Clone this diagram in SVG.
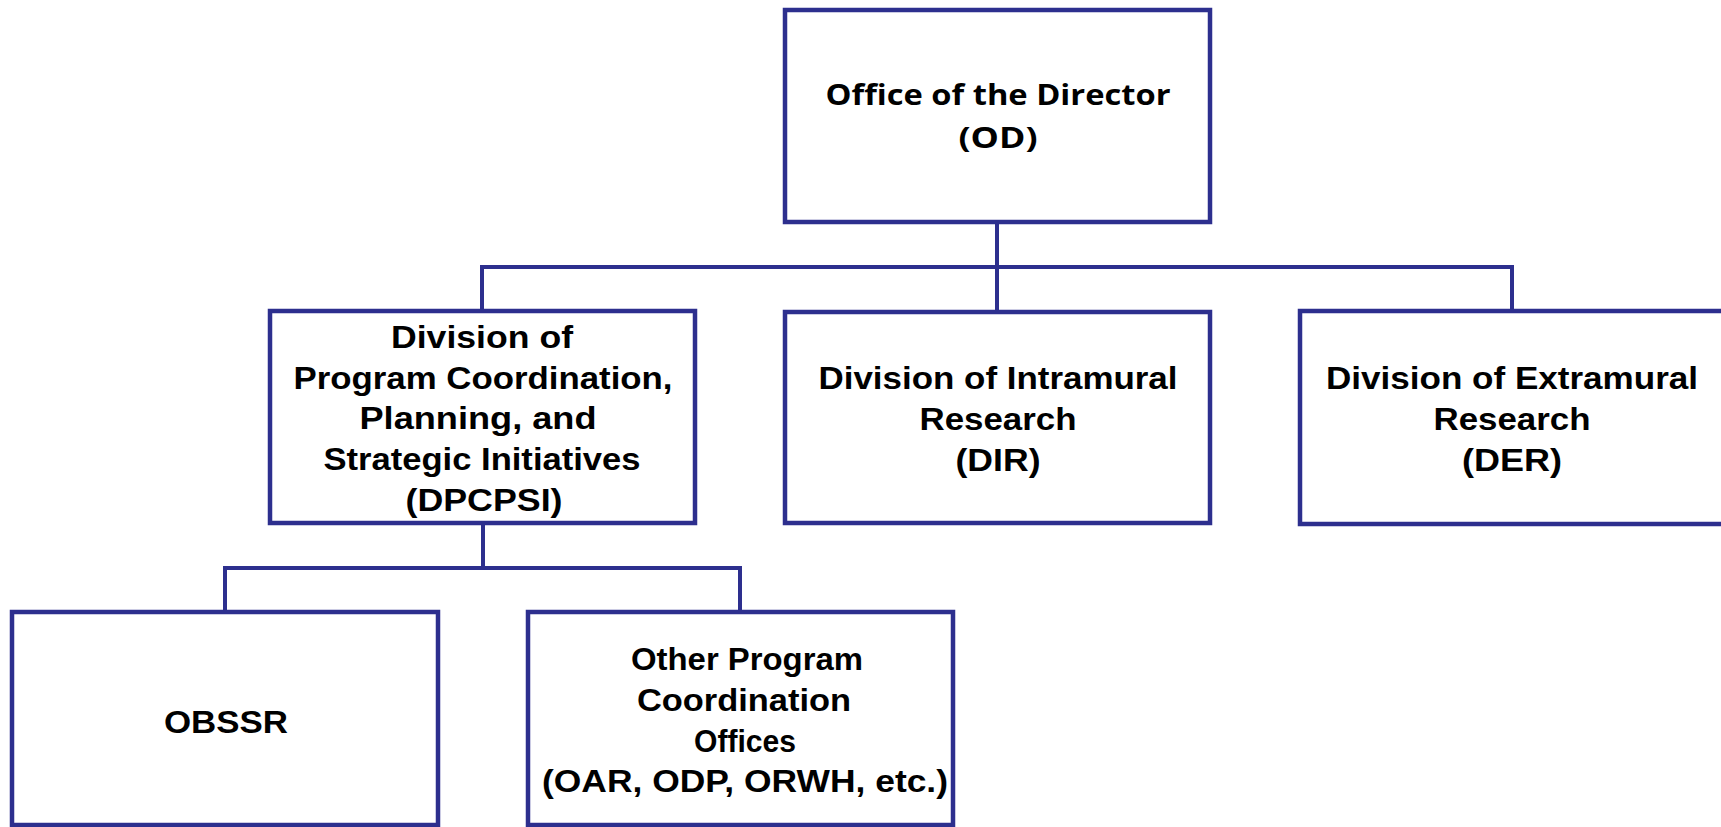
<svg xmlns="http://www.w3.org/2000/svg" width="1721" height="827" viewBox="0 0 1721 827">
<style>
.box{fill:#ffffff;stroke:#2D2F8E;stroke-width:4.5}
.con{fill:none;stroke:#2D2F8E;stroke-width:4}
text{font-family:"Liberation Sans",Arial,sans-serif;font-weight:bold;font-size:32px;fill:#000;text-anchor:middle;font-variant-ligatures:none}
.od{font-family:"Open Sans","Liberation Sans",sans-serif;font-size:28px}
</style>
<rect width="1721" height="827" fill="#ffffff"/>
<g id="connectors">
<path class="con" d="M997,222 V312"/>
<path class="con" d="M482,311 V267 H1512 V311"/>
<path class="con" d="M483,523 V568"/>
<path class="con" d="M225,612 V568 H740 V612"/>
</g>
<g id="od">
<rect class="box" x="785" y="10" width="425" height="212"/>
<text class="od" x="998" y="105" textLength="345" lengthAdjust="spacingAndGlyphs">Office of the Director</text>
<text class="od" x="998" y="148" textLength="79" lengthAdjust="spacingAndGlyphs">(OD)</text>
</g>
<g id="dpcpsi">
<rect class="box" x="270" y="311" width="425" height="212"/>
<text x="482" y="348" textLength="182" lengthAdjust="spacingAndGlyphs">Division of</text>
<text x="483" y="389" textLength="379" lengthAdjust="spacingAndGlyphs">Program Coordination,</text>
<text x="478" y="429" textLength="237" lengthAdjust="spacingAndGlyphs">Planning, and</text>
<text x="482" y="470" textLength="317" lengthAdjust="spacingAndGlyphs">Strategic Initiatives</text>
<text x="484" y="511" textLength="157" lengthAdjust="spacingAndGlyphs">(DPCPSI)</text>
</g>
<g id="dir">
<rect class="box" x="785" y="312" width="425" height="211"/>
<text x="998" y="389" textLength="359" lengthAdjust="spacingAndGlyphs">Division of Intramural</text>
<text x="998" y="430" textLength="157" lengthAdjust="spacingAndGlyphs">Research</text>
<text x="998" y="471" textLength="85" lengthAdjust="spacingAndGlyphs">(DIR)</text>
</g>
<g id="der">
<rect class="box" x="1300" y="311" width="440" height="213"/>
<text x="1512" y="389" textLength="372" lengthAdjust="spacingAndGlyphs">Division of Extramural</text>
<text x="1512" y="430" textLength="157" lengthAdjust="spacingAndGlyphs">Research</text>
<text x="1512" y="471" textLength="100" lengthAdjust="spacingAndGlyphs">(DER)</text>
</g>
<g id="obssr">
<rect class="box" x="12" y="612" width="426" height="213"/>
<text x="226" y="733" textLength="124" lengthAdjust="spacingAndGlyphs">OBSSR</text>
</g>
<g id="other">
<rect class="box" x="528" y="612" width="425" height="213"/>
<text x="747" y="670" textLength="232" lengthAdjust="spacingAndGlyphs">Other Program</text>
<text x="744" y="711" textLength="214" lengthAdjust="spacingAndGlyphs">Coordination</text>
<text x="745" y="752" font-family="Liberation Sans" font-size="33" textLength="102" lengthAdjust="spacingAndGlyphs">Offices</text>
<text x="745" y="792" textLength="406" lengthAdjust="spacingAndGlyphs">(OAR, ODP, ORWH, etc.)</text>
</g>
</svg>
